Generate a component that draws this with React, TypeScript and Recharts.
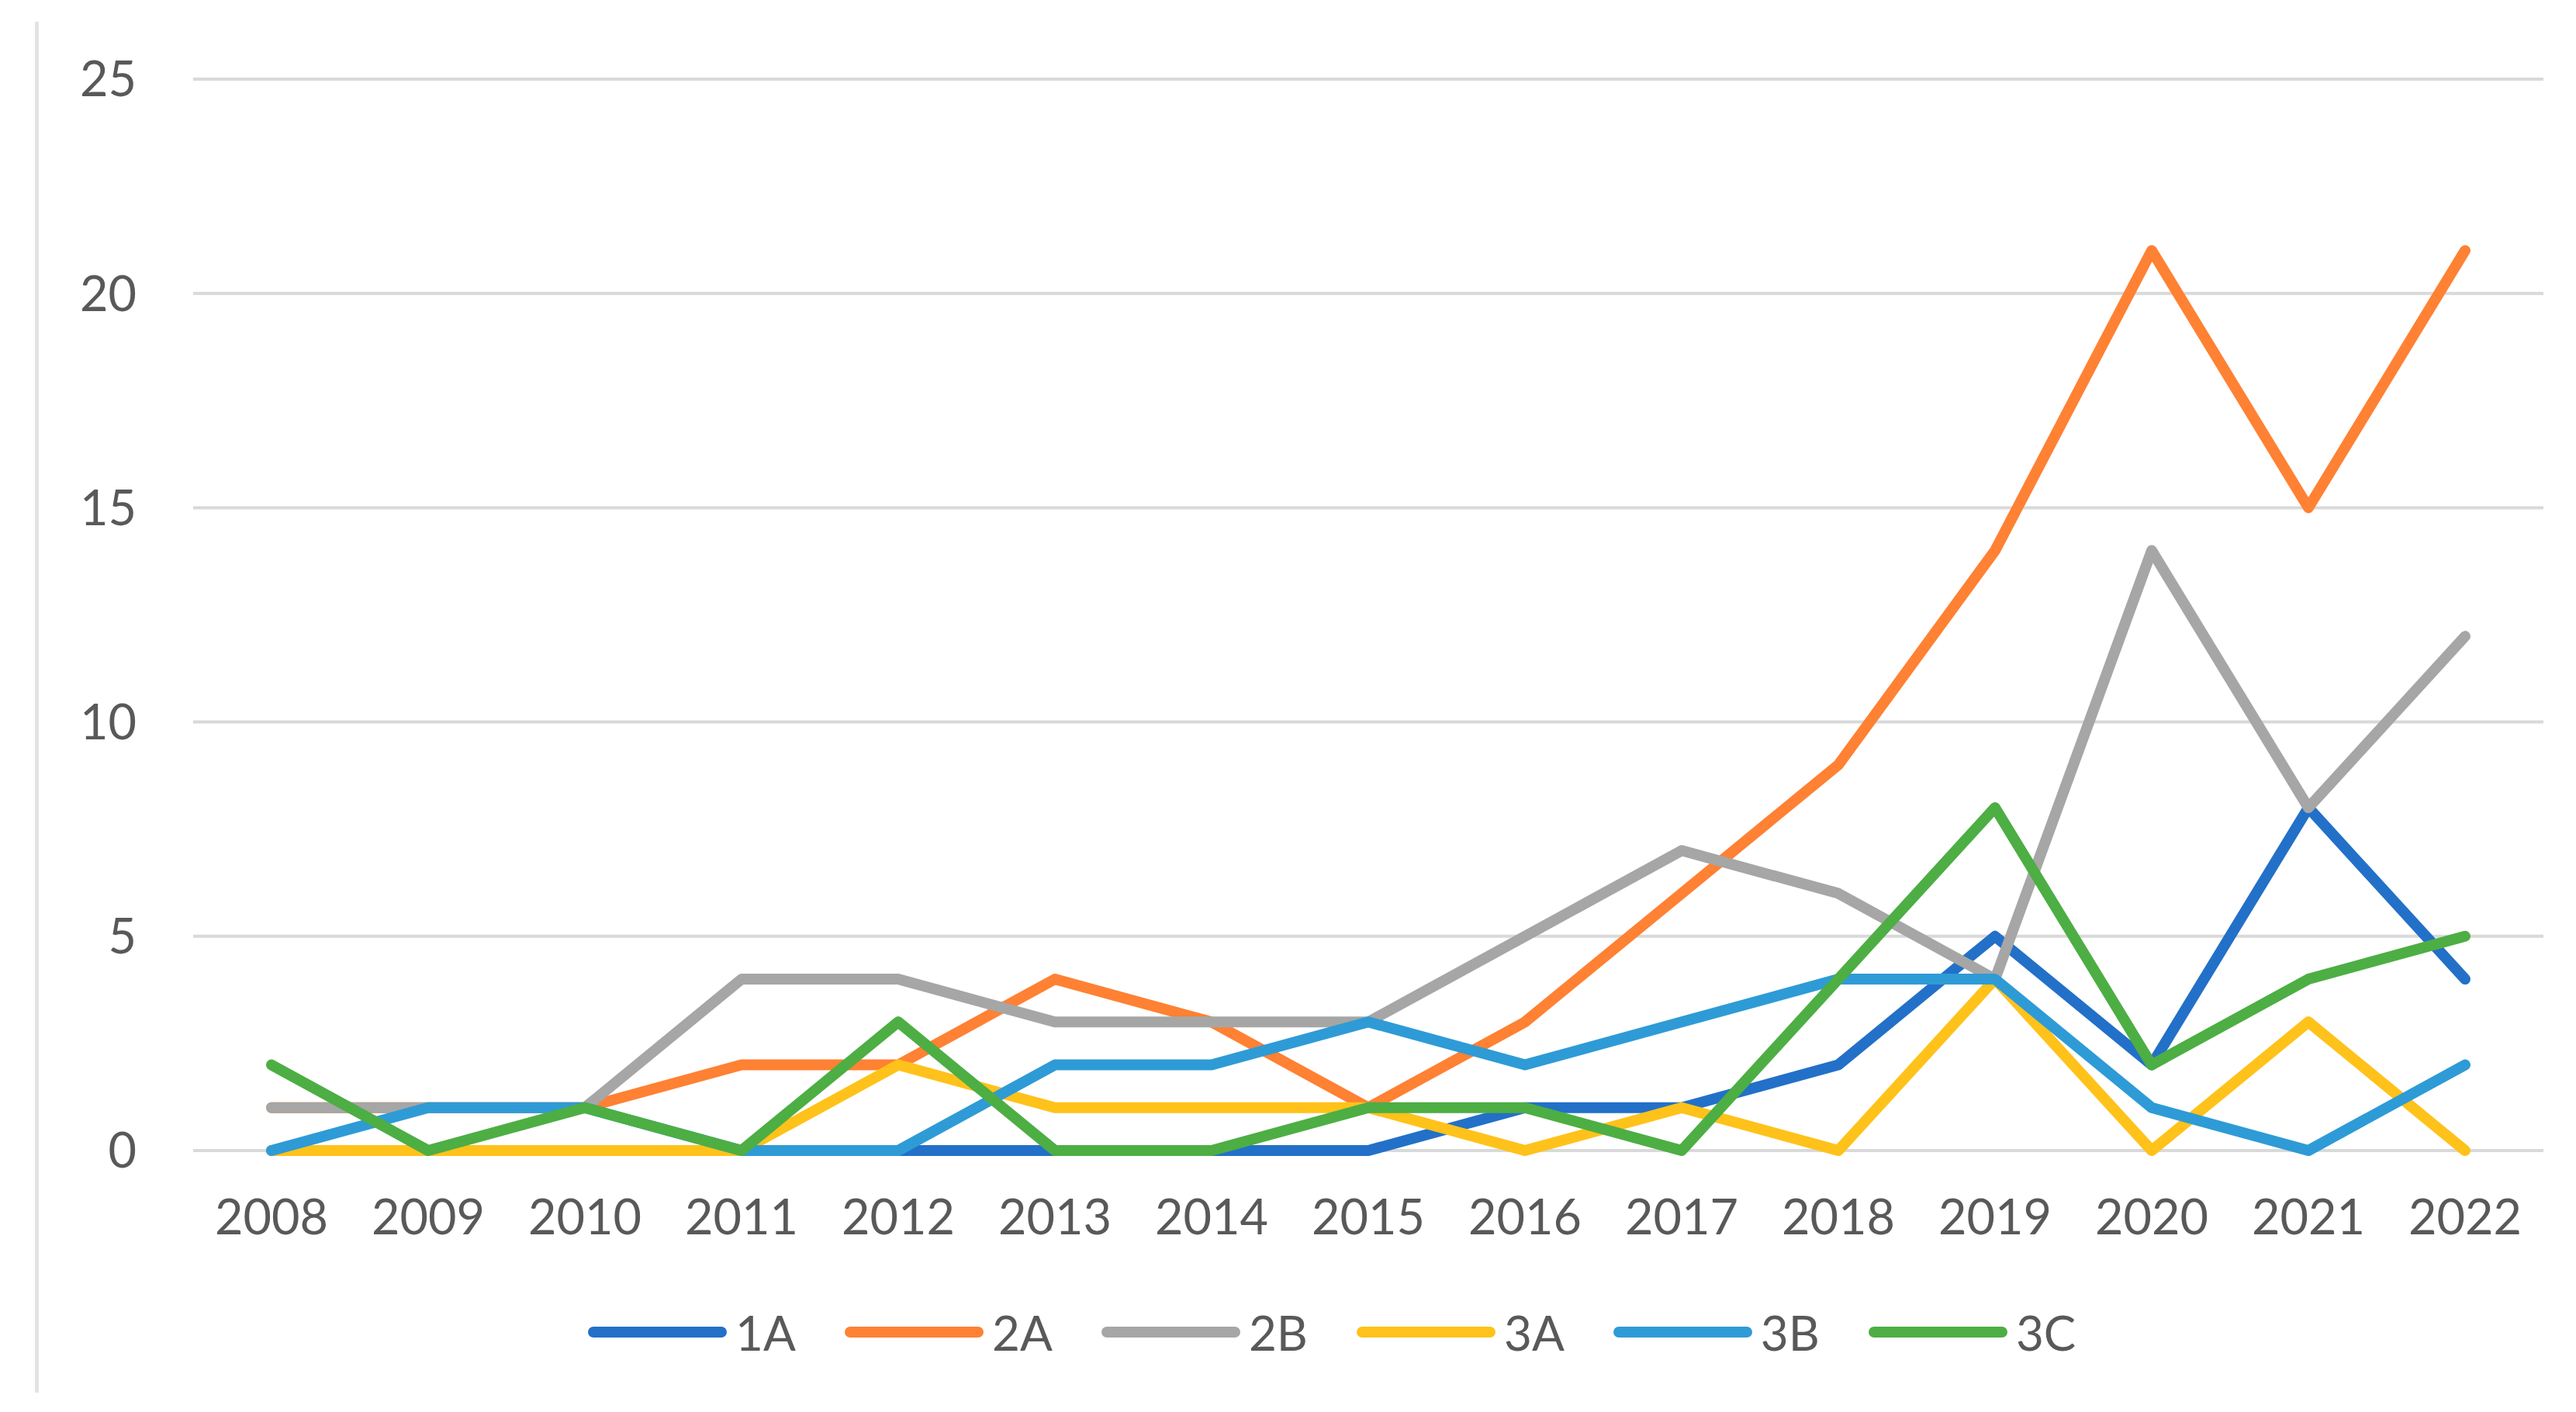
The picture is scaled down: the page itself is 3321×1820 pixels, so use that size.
import { LineChart, Line, XAxis, YAxis, CartesianGrid, Legend } from "recharts";

// years on the category axis
const years = [
  "2008", "2009", "2010", "2011", "2012", "2013", "2014", "2015",
  "2016", "2017", "2018", "2019", "2020", "2021", "2022",
];

// counts per group, one value per year
const s1A = [0, 0, 0, 0, 0, 0, 0, 0, 1, 1, 2, 5, 2, 8, 4];
const s2A = [1, 1, 1, 2, 2, 4, 3, 1, 3, 6, 9, 14, 21, 15, 21];
const s2B = [1, 1, 1, 4, 4, 3, 3, 3, 5, 7, 6, 4, 14, 8, 12];
const s3A = [0, 0, 0, 0, 2, 1, 1, 1, 0, 1, 0, 4, 0, 3, 0];
const s3B = [0, 1, 1, 0, 0, 2, 2, 3, 2, 3, 4, 4, 1, 0, 2];
const s3C = [2, 0, 1, 0, 3, 0, 0, 1, 1, 0, 4, 8, 2, 4, 5];

const yTicks = [0, 5, 10, 15, 20, 25];

const series = [
  { key: "1A", color: "#2370C8" },
  { key: "2A", color: "#FF8133" },
  { key: "2B", color: "#A6A6A6" },
  { key: "3A", color: "#FFC21A" },
  { key: "3B", color: "#2E9BD6" },
  { key: "3C", color: "#4DAE44" },
];

const chartData = years.map((year, i) => ({
  year,
  "1A": s1A[i],
  "2A": s2A[i],
  "2B": s2B[i],
  "3A": s3A[i],
  "3B": s3B[i],
  "3C": s3C[i],
}));

const FONT = "Lato, 'Open Sans', sans-serif";
const TEXT = "#595959";

const LegendRow = () => (
  <div style={{ display: "flex", alignItems: "center", height: 60, fontFamily: FONT, fontSize: 62, color: TEXT }}>
    {series.map((s) => (
      <div key={s.key} style={{ display: "flex", alignItems: "center", marginRight: 63 }}>
        <svg width={179} height={20} style={{ display: "block" }}>
          <line x1={7} y1={10} x2={172} y2={10} stroke={s.color} strokeWidth={14} strokeLinecap="round" />
        </svg>
        <span style={{ marginLeft: 11, lineHeight: "60px" }}>{s.key}</span>
      </div>
    ))}
  </div>
);

export default function App() {
  return (
    <div style={{ position: "relative", width: 3305, height: 1804, background: "#fff" }}>
      <div
        style={{
          position: "absolute",
          left: 37,
          top: 20,
          width: 5,
          height: 1767,
          background: "#e3e3e3",
        }}
      />
      <LineChart
        width={3305}
        height={1804}
        data={chartData}
        margin={{ top: 94, right: 34, left: 0, bottom: 0 }}
      >
        <CartesianGrid vertical={false} stroke="#d9d9d9" strokeWidth={4} />
        <XAxis
          dataKey="year"
          axisLine={false}
          tickLine={false}
          tickSize={0}
          tickMargin={63}
          height={269}
          padding={{ left: 101, right: 101 }}
          interval={0}
          tick={{ fontFamily: FONT, fontSize: 63, fill: TEXT }}
        />
        <YAxis
          domain={[0, 25]}
          ticks={yTicks}
          axisLine={false}
          tickLine={false}
          tickSize={0}
          tickMargin={73}
          width={241}
          tick={{ fontFamily: FONT, fontSize: 63, fill: TEXT }}
        />
        <Legend
          verticalAlign="bottom"
          content={() => <LegendRow />}
          wrapperStyle={{ left: 750, top: 1679, width: "auto", height: 60 }}
        />
        {series.map((s) => (
          <Line
            key={s.key}
            type="linear"
            dataKey={s.key}
            stroke={s.color}
            strokeWidth={14}
            strokeLinecap="round"
            strokeLinejoin="round"
            dot={false}
            activeDot={false}
            isAnimationActive={false}
          />
        ))}
      </LineChart>
    </div>
  );
}
